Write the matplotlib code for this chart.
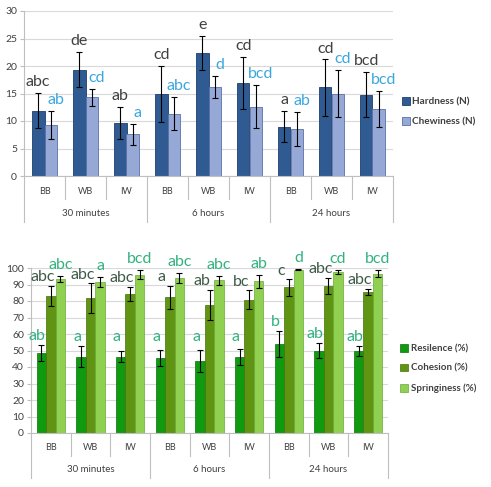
import numpy as np
import matplotlib
matplotlib.use('Agg')
import matplotlib.pyplot as plt

plt.rcParams['font.family'] = ['Lato', 'DejaVu Sans']

# categories
samples = ['BB', 'WB', 'IW'] * 3
groups = ['30 minutes', '6 hours', '24 hours']

# top chart: hardness / chewiness (N)
hardness = [11.9, 19.3, 9.6, 14.9, 22.3, 16.9, 9.0, 16.1, 14.8]
hardness_err = [3.2, 3.2, 2.9, 5.1, 3.1, 4.7, 2.8, 5.1, 4.1]
chewiness = [9.3, 14.3, 7.6, 11.3, 16.2, 12.6, 8.6, 15.0, 12.2]
chewiness_err = [2.6, 1.5, 1.9, 3.0, 2.0, 3.9, 3.1, 4.3, 3.2]
hardness_lbl = ['abc', 'de', 'ab', 'cd', 'e', 'cd', 'a', 'cd', 'bcd']
chewiness_lbl = ['ab', 'cd', 'a', 'abc', 'd', 'bcd', 'ab', 'cd', 'bcd']

# bottom chart: resilience / cohesion / springiness (%)
resilience = [48.3, 46.2, 46.2, 45.4, 43.6, 46.2, 54.0, 49.9, 49.9]
resilience_err = [4.9, 6.5, 3.3, 4.9, 6.8, 5.0, 7.8, 4.7, 3.0]
cohesion = [83.2, 81.7, 84.2, 82.2, 77.7, 80.7, 88.2, 89.2, 85.4]
cohesion_err = [6.0, 9.0, 4.4, 7.0, 9.0, 5.8, 5.0, 5.0, 2.0]
springiness = [93.3, 91.3, 95.9, 94.1, 92.5, 91.9, 99.0, 97.4, 96.6]
springiness_err = [1.7, 3.0, 2.6, 3.0, 2.5, 3.8, 0.3, 1.3, 2.3]
resilience_lbl = ['ab', 'a', 'a', 'a', 'a', 'a', 'b', 'ab', 'ab']
cohesion_lbl = ['abc', 'abc', 'abc', 'a', 'ab', 'bc', 'c', 'abc', 'abc']
springiness_lbl = ['abc', 'a', 'bcd', 'abc', 'abc', 'ab', 'd', 'cd', 'bcd']

AX_COL = '#bfbfbf'
GRID_COL = '#d9d9d9'
TXT = '#404040'
LBL = 11.5


def setup_axis(ax, ymax, ystep, lab_y, grp_y, line_in, line_grp):
    x = np.arange(len(samples))
    ax.set_xlim(-0.5, len(samples) - 0.5)
    ax.set_ylim(0, ymax)
    ax.set_yticks(np.arange(0, ymax + 1, ystep))
    ax.yaxis.grid(True, color=GRID_COL, lw=0.8)
    ax.set_axisbelow(True)
    for s in ['top', 'right']:
        ax.spines[s].set_visible(False)
    for s in ['left', 'bottom']:
        ax.spines[s].set_color(AX_COL)
    ax.tick_params(axis='y', length=3, color=AX_COL, labelsize=7.5,
                   labelcolor=TXT, pad=2)
    ax.set_xticks([])
    tr = ax.get_xaxis_transform()
    for i, s in enumerate(samples):
        ax.text(i, lab_y, s, transform=tr, ha='center', va='center',
                fontsize=6.5, color=TXT)
    for g, name in enumerate(groups):
        ax.text(g * 3 + 1, grp_y, name, transform=tr, ha='center',
                va='center', fontsize=7, color=TXT)
    for b in np.arange(-0.5, len(samples), 1.0):
        end = line_grp if (b + 0.5) % 3 == 0 else line_in
        ax.plot([b, b], [0, end], transform=tr, color=AX_COL, lw=0.8,
                clip_on=False)
    return x


fig = plt.figure(figsize=(4.91, 4.87), dpi=100)

# ---- top chart
ax1 = fig.add_axes([24 / 491, 311 / 487, 369 / 491, 165 / 487])
x = setup_axis(ax1, 30, 5, -16 / 165, -37 / 165, -23 / 165, -46 / 165)
w = 0.31
ekw = dict(ecolor='black', elinewidth=0.8, capsize=2, capthick=0.8)
ax1.bar(x - w / 2, hardness, w, yerr=hardness_err, color='#2f5b92',
        edgecolor='#1f3f6e', lw=0.6, label='Hardness (N)', error_kw=ekw)
ax1.bar(x + w / 2, chewiness, w, yerr=chewiness_err, color='#95a8d6',
        edgecolor='#5a70a8', lw=0.6, label='Chewiness (N)', error_kw=ekw)
for i in range(len(samples)):
    ax1.text(x[i] - w / 2, hardness[i] + hardness_err[i] + 0.7,
             hardness_lbl[i], ha='center', va='bottom', fontsize=LBL,
             color=TXT)
    ax1.text(x[i] + w / 2 + 0.12, chewiness[i] + chewiness_err[i] + 0.7,
             chewiness_lbl[i], ha='center', va='bottom', fontsize=LBL,
             color='#3aa7dd')
leg = ax1.legend(loc='center left', bbox_to_anchor=(1.0, 0.39),
                 frameon=False, handlelength=0.8, handleheight=0.8,
                 handletextpad=0.25, labelspacing=1.1,
                 prop={'size': 7.2, 'weight': 'bold'})
for t in leg.get_texts():
    t.set_color(TXT)

# ---- bottom chart
ax2 = fig.add_axes([31 / 491, 54 / 487, 357 / 491, 165 / 487])
x = setup_axis(ax2, 100, 10, -15 / 165, -37 / 165, -23 / 165, -45 / 165)
w = 0.24
ax2.bar(x - w, resilience, w, yerr=resilience_err, color='#0f9a10',
        edgecolor='#0a700a', lw=0.5, label='Resilence (%)', error_kw=ekw)
ax2.bar(x, cohesion, w, yerr=cohesion_err, color='#5f9512',
        edgecolor='#46700c', lw=0.5, label='Cohesion (%)', error_kw=ekw)
ax2.bar(x + w, springiness, w, yerr=springiness_err, color='#90d050',
        edgecolor='#6aa83a', lw=0.5, label='Springiness (%)', error_kw=ekw)
for i in range(len(samples)):
    r_top = resilience[i] + resilience_err[i]
    ax2.text(x[i] - w - 0.1, max(r_top + 5.5, 58), resilience_lbl[i],
             ha='center', va='center', fontsize=LBL, color='#33b27f')
    ax2.text(x[i] - 0.2, cohesion[i] + cohesion_err[i] + 1.0,
             cohesion_lbl[i], ha='center', va='bottom', fontsize=LBL,
             color='#3f5a48')
    ax2.text(x[i] + w, springiness[i] + springiness_err[i] + 2.5,
             springiness_lbl[i], ha='center', va='bottom', fontsize=LBL,
             color='#33b27f', clip_on=False)
leg = ax2.legend(loc='center left', bbox_to_anchor=(1.01, 0.39),
                 frameon=False, handlelength=0.8, handleheight=0.8,
                 handletextpad=0.25, labelspacing=1.1,
                 prop={'size': 7.0, 'weight': 'bold'})
for t in leg.get_texts():
    t.set_color(TXT)

fig.savefig('out.png', dpi=100)
